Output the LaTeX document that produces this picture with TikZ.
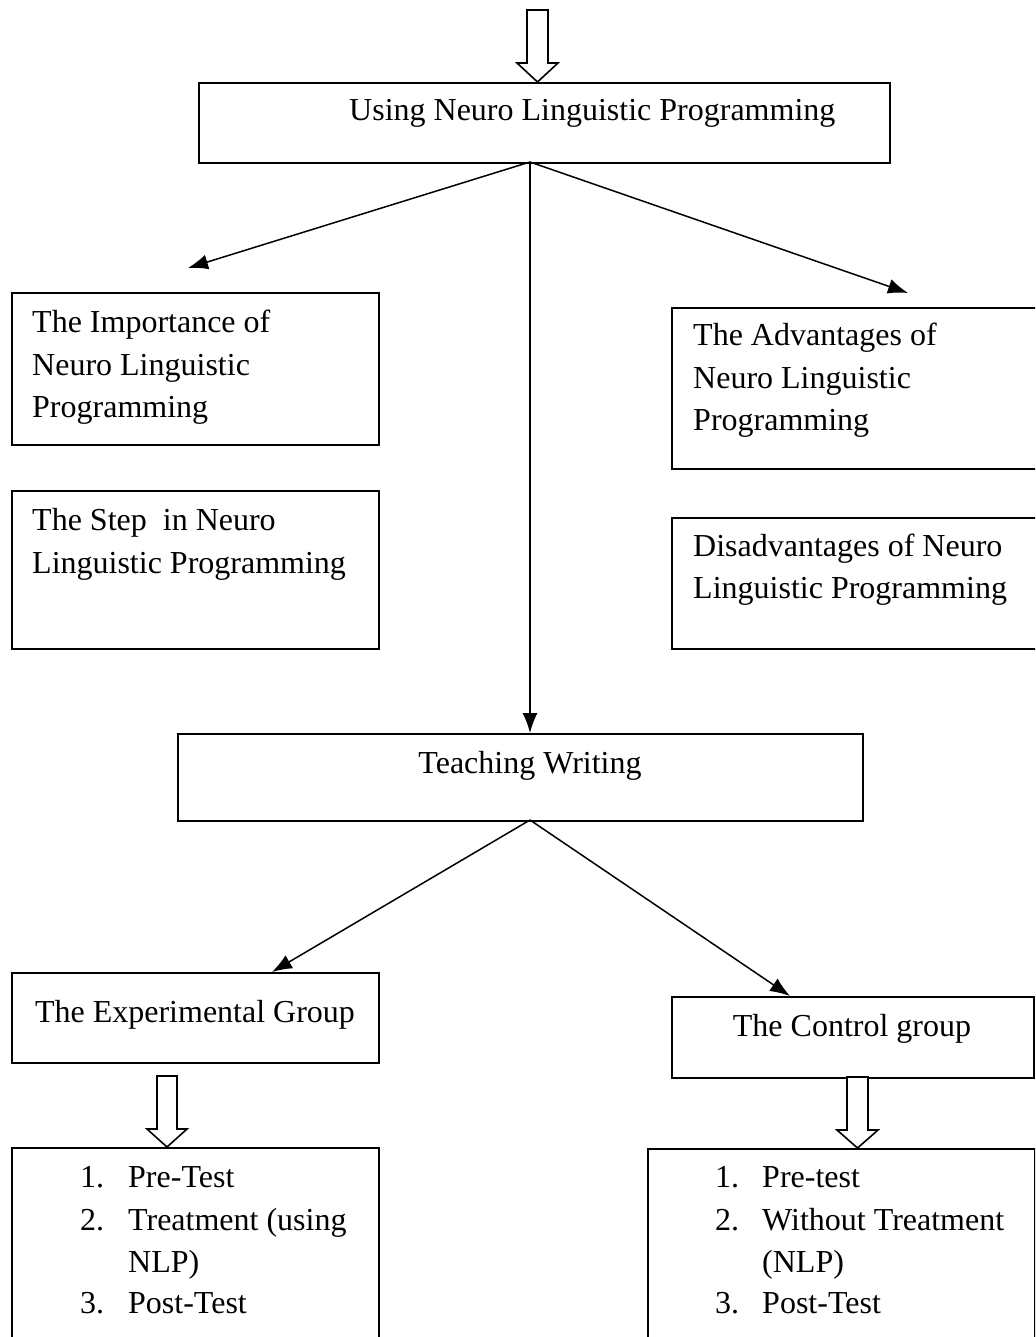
\documentclass[tikz,border=0pt]{standalone}
\usepackage{fontspec}
\setmainfont{Liberation Serif}
\usetikzlibrary{arrows.meta}
\begin{document}
\begin{tikzpicture}[x=1pt,y=-1pt,
  box/.style={draw,line width=1.6pt,inner sep=0pt,anchor=north west},
  txt/.style={anchor=base west,inner sep=0pt,font=\fontsize{32}{42}\selectfont},
  ctxt/.style={anchor=base,inner sep=0pt,font=\fontsize{32}{42}\selectfont},
  conn/.style={line width=1.5pt,-{Latex[length=20pt,width=15pt]}},
  hollow/.style={draw,line width=1.6pt,fill=white,line join=miter}]
\clip (0,0) rectangle (1035,1337);
\fill[white] (0,0) rectangle (1035,1337);

% top hollow arrow
\draw[hollow] (527,10) -- (548,10) -- (548,63) -- (558,63) -- (537.5,82) -- (517,63) -- (527,63) -- cycle;

% boxes
\node[box,minimum width=691pt,minimum height=80pt] (nlp) at (198,82) {};
\node[txt] (nlpt) at (349,121) {Using Neuro Linguistic Programming};

\node[box,minimum width=367pt,minimum height=152pt] (imp) at (11,292) {};
\node[txt] (imp1) at (32,332) {The Importance of};
\node[txt] (imp2) at (32,375) {Neuro Linguistic};
\node[txt] (imp3) at (32,417) {Programming};

\node[box,minimum width=367pt,minimum height=158pt] (stp) at (11,490) {};
\node[txt] (stp1) at (32,530) {The Step\ \ in Neuro};
\node[txt] (stp2) at (32,573) {Linguistic Programming};

\node[box,minimum width=380pt,minimum height=161pt] (adv) at (671,307) {};
\node[txt] (adv1) at (693,345) {The Advantages of};
\node[txt] (adv2) at (693,388) {Neuro Linguistic};
\node[txt] (adv3) at (693,430) {Programming};

\node[box,minimum width=380pt,minimum height=131pt] (dis) at (671,517) {};
\node[txt] (dis1) at (693,556) {Disadvantages of Neuro};
\node[txt] (dis2) at (693,598) {Linguistic Programming};

\node[box,minimum width=685pt,minimum height=87pt] (tw) at (177,733) {};
\node[ctxt] (twt) at (530,773) {Teaching Writing};

\node[box,minimum width=367pt,minimum height=90pt] (exp) at (11,972) {};
\node[ctxt] (expt) at (195,1022) {The Experimental Group};

\node[box,minimum width=362pt,minimum height=81pt] (ctl) at (671,996) {};
\node[ctxt] (ctlt) at (852,1036) {The Control group};

\node[box,minimum width=367pt,minimum height=260pt] (expl) at (11,1147) {};
\node[txt] (e1n) at (80,1187) {1.};
\node[txt] (e1) at (128,1187) {Pre-Test};
\node[txt] (e2n) at (80,1230) {2.};
\node[txt] (e2) at (128,1230) {Treatment (using};
\node[txt] (e2b) at (128,1272) {NLP)};
\node[txt] (e3n) at (80,1313) {3.};
\node[txt] (e3) at (128,1313) {Post-Test};

\node[box,minimum width=387pt,minimum height=260pt] (ctll) at (647,1148) {};
\node[txt] (c1n) at (715,1187) {1.};
\node[txt] (c1) at (762,1187) {Pre-test};
\node[txt] (c2n) at (715,1230) {2.};
\node[txt] (c2) at (762,1230) {Without Treatment};
\node[txt] (c2b) at (762,1272) {(NLP)};
\node[txt] (c3n) at (715,1313) {3.};
\node[txt] (c3) at (762,1313) {Post-Test};

% connectors
\coordinate (nlpb) at (530,162);
\coordinate (impa) at (188,268);
\coordinate (adva) at (908,293);
\coordinate (twb) at (530,820);
\draw[conn] (nlpb) -- (impa);
\draw[conn] (nlpb) -- (adva);
\draw[conn] (nlpb) -- (530,733);
\draw[conn] (twb) -- (272,972);
\draw[conn] (twb) -- (790,996);

% hollow arrows to bottom boxes
\draw[hollow] (157,1076) -- (177,1076) -- (177,1129) -- (187,1129) -- (167,1147) -- (147,1129) -- (157,1129) -- cycle;
\draw[hollow] (847,1077) -- (868,1077) -- (868,1130) -- (878,1130) -- (857.5,1148) -- (837,1130) -- (847,1130) -- cycle;
\end{tikzpicture}
\end{document}
